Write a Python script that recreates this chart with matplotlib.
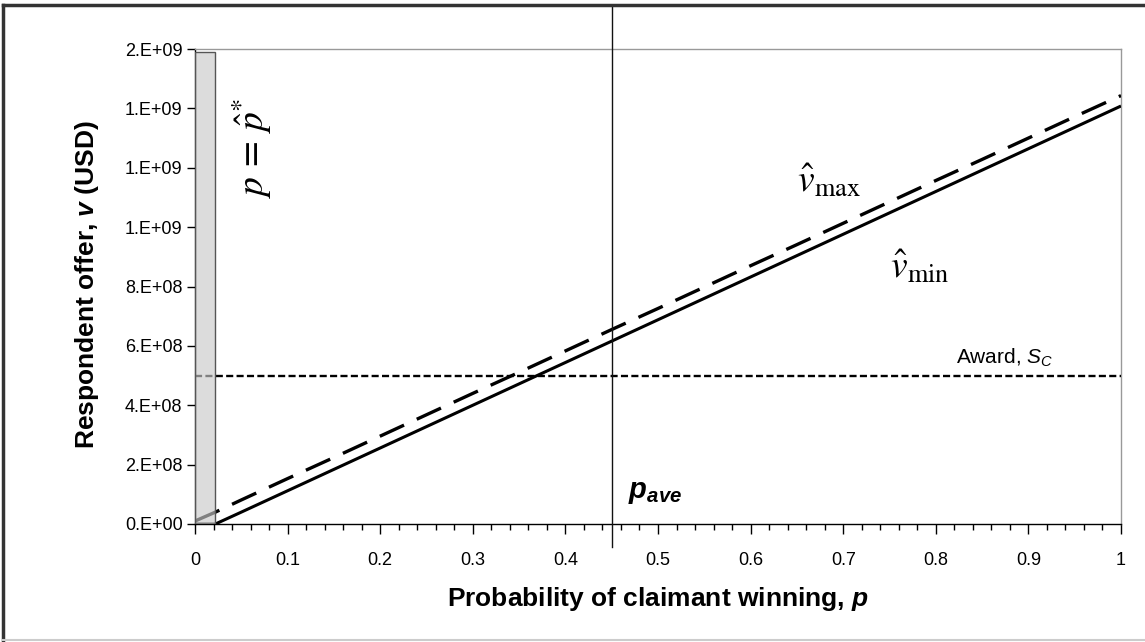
import matplotlib
matplotlib.use("Agg")
import matplotlib.pyplot as plt
from matplotlib.patches import Rectangle
from matplotlib.lines import Line2D
import matplotlib.transforms as mtransforms

# ---------------- data ----------------
p = [0, 0.022, 0.05, 0.1, 0.15, 0.2, 0.25, 0.3, 0.35, 0.4, 0.45, 0.5,
     0.55, 0.6, 0.65, 0.7, 0.75, 0.8, 0.85, 0.9, 0.95, 1.0]
v_min = [0, 0, 0.40e8, 1.12e8, 1.84e8, 2.56e8, 3.28e8, 4.00e8, 4.72e8, 5.44e8,
         6.16e8, 6.88e8, 7.60e8, 8.32e8, 9.04e8, 9.76e8, 10.48e8, 11.20e8,
         11.92e8, 12.64e8, 13.36e8, 14.08e8]
v_max = [0.10e8, 0.40e8, 0.81e8, 1.53e8, 2.24e8, 2.96e8, 3.68e8, 4.40e8, 5.11e8,
         5.83e8, 6.55e8, 7.26e8, 7.98e8, 8.70e8, 9.41e8, 10.13e8, 10.85e8,
         11.57e8, 12.28e8, 13.00e8, 13.72e8, 14.43e8]
award_p = [0, 1]
award_v = [5e8, 5e8]
p_ave = 0.45
p_star = 0.022
p_star_top = 1.59e9

xticks = [0, 0.1, 0.2, 0.3, 0.4, 0.5, 0.6, 0.7, 0.8, 0.9, 1.0]
xtick_labels = ["0", "0.1", "0.2", "0.3", "0.4", "0.5", "0.6", "0.7", "0.8", "0.9", "1"]
yticks = [0, 2e8, 4e8, 6e8, 8e8, 1.0e9, 1.2e9, 1.4e9, 1.6e9]
ytick_labels = ["0.E+00", "2.E+08", "4.E+08", "6.E+08", "8.E+08",
                "1.E+09", "1.E+09", "1.E+09", "2.E+09"]

# ---------------- figure ----------------
plt.rcParams['font.family'] = ['Liberation Sans', 'DejaVu Sans']
plt.rcParams['mathtext.fontset'] = 'custom'
plt.rcParams['mathtext.rm'] = 'Liberation Sans'
plt.rcParams['mathtext.it'] = 'Liberation Sans:italic'
plt.rcParams['mathtext.bf'] = 'Liberation Sans:bold'
plt.rcParams['mathtext.bfit'] = 'Liberation Sans:italic:bold'

fig = plt.figure(figsize=(11.45, 6.42), dpi=100)
ax = fig.add_axes([195/1145, 1 - 524/642, (1121-195)/1145, (524-49)/642])

ax.plot(p, v_min, color='black', lw=2.2, solid_capstyle='butt', zorder=3)
ax.plot(p, v_max, color='black', lw=2.4, linestyle=(0, (8, 4.2)), zorder=3)
ax.plot(award_p, award_v, color='black', lw=1.7, linestyle=(0, (3, 1.4)), zorder=3)

rect = Rectangle((0, 0), p_star, p_star_top, facecolor=(0.79, 0.79, 0.79, 0.64),
                 edgecolor='#555555', lw=1.0, zorder=4)
ax.add_patch(rect)

trans = mtransforms.blended_transform_factory(ax.transData, ax.transAxes)
ax.add_line(Line2D([p_ave, p_ave], [-0.048, 1.093], transform=trans, color='#111111',
                   lw=1.0, clip_on=False, zorder=5))

ax.set_xlim(0, 1)
ax.set_ylim(0, 1.6e9)
ax.set_xticks(xticks)
ax.set_xticklabels(xtick_labels, fontsize=13)
ax.set_xticks([i * 0.02 for i in range(51)], minor=True)
ax.set_yticks(yticks)
ax.set_yticklabels(ytick_labels, fontsize=13)
ax.tick_params(axis='x', which='major', direction='out', length=7, width=1, pad=13)
ax.tick_params(axis='x', which='minor', direction='out', length=4, width=1)
ax.tick_params(axis='y', which='major', direction='out', length=6, width=1, pad=3)

for s in ['top', 'right']:
    ax.spines[s].set_color('#999999')
    ax.spines[s].set_linewidth(1.0)
for s in ['left', 'bottom']:
    ax.spines[s].set_color('black')
    ax.spines[s].set_linewidth(1.0)

ax.set_xlabel(r"Probability of claimant winning, $\mathbfit{p}$", fontsize=19,
              fontweight='bold', labelpad=12)
fig.text(87/1145, 1 - 285/642, r"Respondent offer, $\mathbfit{v}$ (USD)", rotation=90,
         ha='center', va='center', fontsize=19, fontweight='bold')

# annotations
ax.text(0.0615, 1.268e9, r"$p\,=\,\hat{p}^{*}$", rotation=90, ha='center', va='center',
        fontsize=27, zorder=6, math_fontfamily='stix')
ax.text(0.650, 1.155e9, r"$\hat{v}_{\mathrm{max}}$", ha='left', va='center', fontsize=27,
        math_fontfamily='stix')
ax.text(0.750, 0.865e9, r"$\hat{v}_{\mathrm{min}}$", ha='left', va='center', fontsize=27,
        math_fontfamily='stix')
ax.text(0.822, 5.22e8, r"Award, $S_C$", ha='left', va='bottom', fontsize=15)
ax.text(0.468, 1.08e8, r"$\mathbfit{p}_{\mathbfit{ave}}$", ha='left', va='center',
        fontsize=21)

# figure border
fig.add_artist(Line2D([3/1145, 3/1145], [0, 1 - 5/642], transform=fig.transFigure,
                      color='#333333', lw=2.5))
fig.add_artist(Line2D([3/1145, 1], [1 - 5/642, 1 - 5/642], transform=fig.transFigure,
                      color='#333333', lw=2.5))
fig.add_artist(Line2D([3/1145, 1], [2/642, 2/642], transform=fig.transFigure,
                      color='#cccccc', lw=1.5))

fig.savefig("out.png", dpi=100)
